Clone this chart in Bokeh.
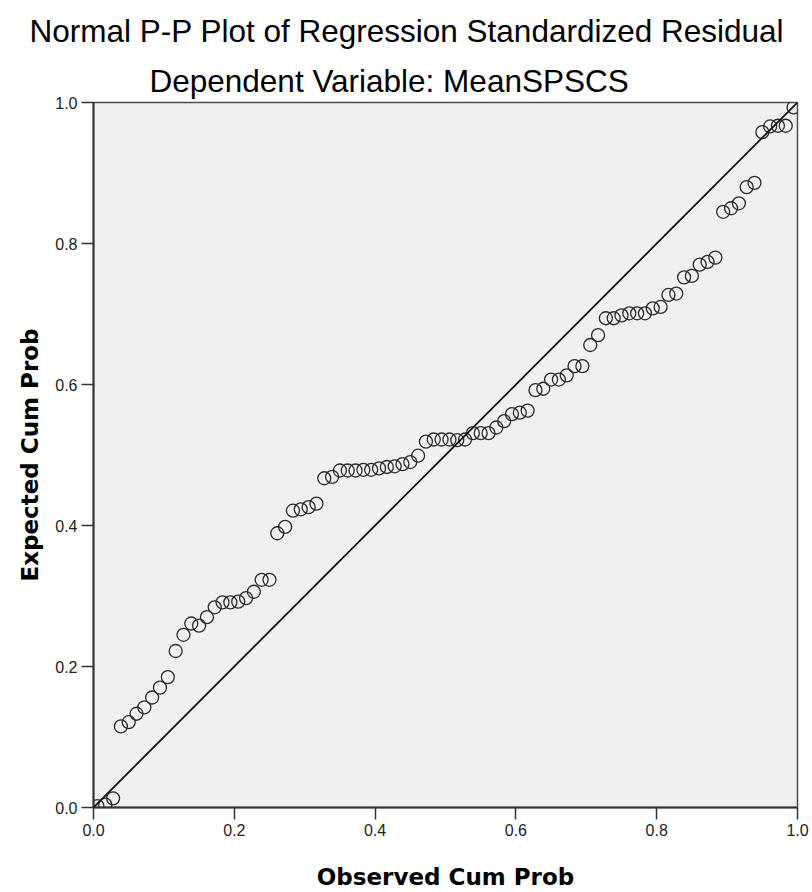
from bokeh.plotting import figure
from bokeh.models import Title, Range1d, FixedTicker, Slope, PrintfTickFormatter
from bokeh.embed import file_html
from bokeh.resources import INLINE

title_main = "Normal P-P Plot of Regression Standardized Residual"
title_sub = "Dependent Variable: MeanSPSCS"
x_label = "Observed Cum Prob"
y_label = "Expected Cum Prob"
tick_values = [0.0, 0.2, 0.4, 0.6, 0.8, 1.0]

observed_cum_prob = [
    0.0056, 0.0167, 0.0278, 0.0389, 0.0500, 0.0611, 0.0722, 0.0833, 0.0944, 0.1056,
    0.1167, 0.1278, 0.1389, 0.1500, 0.1611, 0.1722, 0.1833, 0.1944, 0.2056, 0.2167,
    0.2278, 0.2389, 0.2500, 0.2611, 0.2722, 0.2833, 0.2944, 0.3056, 0.3167, 0.3278,
    0.3389, 0.3500, 0.3611, 0.3722, 0.3833, 0.3944, 0.4056, 0.4167, 0.4278, 0.4389,
    0.4500, 0.4611, 0.4722, 0.4833, 0.4944, 0.5056, 0.5167, 0.5278, 0.5389, 0.5500,
    0.5611, 0.5722, 0.5833, 0.5944, 0.6056, 0.6167, 0.6278, 0.6389, 0.6500, 0.6611,
    0.6722, 0.6833, 0.6944, 0.7056, 0.7167, 0.7278, 0.7389, 0.7500, 0.7611, 0.7722,
    0.7833, 0.7944, 0.8056, 0.8167, 0.8278, 0.8389, 0.8500, 0.8611, 0.8722, 0.8833,
    0.8944, 0.9056, 0.9167, 0.9278, 0.9389, 0.9500, 0.9611, 0.9722, 0.9833, 0.9944,
]
expected_cum_prob = [
    0.002, 0.004, 0.013, 0.115, 0.121, 0.133, 0.142, 0.156, 0.170, 0.185,
    0.222, 0.245, 0.261, 0.258, 0.270, 0.284, 0.291, 0.291, 0.292, 0.297,
    0.306, 0.323, 0.323, 0.389, 0.398, 0.421, 0.423, 0.426, 0.431, 0.467,
    0.469, 0.478, 0.478, 0.478, 0.479, 0.479, 0.481, 0.483, 0.484, 0.487,
    0.490, 0.499, 0.519, 0.522, 0.522, 0.522, 0.521, 0.522, 0.531, 0.531,
    0.531, 0.539, 0.548, 0.558, 0.560, 0.563, 0.592, 0.594, 0.607, 0.607,
    0.613, 0.626, 0.626, 0.656, 0.670, 0.694, 0.694, 0.698, 0.701, 0.701,
    0.701, 0.708, 0.710, 0.727, 0.729, 0.752, 0.754, 0.770, 0.774, 0.780,
    0.845, 0.850, 0.857, 0.880, 0.886, 0.958, 0.966, 0.967, 0.967, 0.993,
]

p = figure(width=810, height=892, output_backend="svg", toolbar_location=None,
           x_range=Range1d(0, 1), y_range=Range1d(0, 1),
           min_border_left=93, min_border_right=13, min_border_top=102, min_border_bottom=84)

p.background_fill_color = "#f0f0f0"
p.border_fill_color = "white"
p.outline_line_color = "#4d4d4d"
p.outline_line_width = 1.5
p.grid.visible = False

for ax in (p.xaxis[0], p.yaxis[0]):
    ax.ticker = FixedTicker(ticks=tick_values)
    ax.formatter = PrintfTickFormatter(format="%.1f")
    ax.minor_tick_line_color = None
    ax.major_tick_in = 0
    ax.major_tick_out = 12
    ax.major_tick_line_color = "#333333"
    ax.major_tick_line_width = 1.5
    ax.axis_line_color = "#333333"
    ax.axis_line_width = 2
    ax.major_label_text_font = "Liberation Sans"
    ax.major_label_text_font_size = "16px"
    ax.major_label_text_color = "#222222"
    ax.major_label_standoff = 4
    ax.axis_label_text_font = "DejaVu Sans"
    ax.axis_label_text_font_style = "bold"
    ax.axis_label_text_font_size = "23px"
    ax.axis_label_text_color = "black"

p.xaxis[0].axis_label = x_label
p.yaxis[0].axis_label = y_label
p.xaxis[0].axis_label_standoff = 25
p.yaxis[0].axis_label_standoff = 9

p.add_layout(Slope(gradient=1, y_intercept=0, line_color="#111111", line_width=1.8))

p.scatter(observed_cum_prob, expected_cum_prob, size=13, marker="circle",
          fill_color=None, line_color="#2b2b2b", line_width=1.3)

p.add_layout(Title(text=title_sub, align="left", offset=56, standoff=8,
                   text_font="Liberation Sans", text_font_style="normal",
                   text_font_size="31.5px", text_color="black"), "above")
p.add_layout(Title(text=title_main, align="left", offset=-64, standoff=16,
                   text_font="Liberation Sans", text_font_style="normal",
                   text_font_size="31.5px", text_color="black"), "above")

open("out.html", "w").write(file_html(p, INLINE))
